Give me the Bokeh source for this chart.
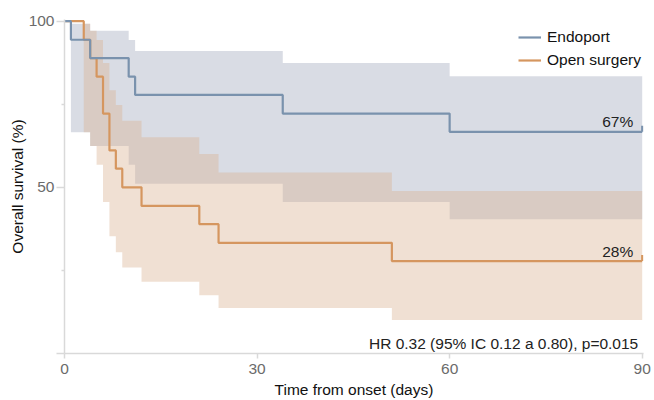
import numpy as np
from bokeh.plotting import figure
from bokeh.models import Range1d, FixedTicker, Legend, LegendItem, Label
from bokeh.embed import file_html
from bokeh.resources import INLINE

# ---- data ----
series_names = ["Endoport", "Open surgery"]

endo_time = [0, 1, 4, 10, 11, 34, 60, 90]
endo_surv = [100, 94.4, 88.9, 83.3, 77.8, 72.2, 66.7, 66.7]
endo_ci_time = [1, 4, 10, 11, 34, 60, 90]
endo_ci_low = [66.6, 62.4, 56.8, 51.1, 45.6, 40.4, 40.4]
endo_ci_high = [99.2, 97.1, 94.3, 91.0, 87.4, 83.4, 83.4]

open_time = [0, 3, 4, 5, 6, 7, 8, 9, 12, 21, 24, 51, 90]
open_surv = [100, 94.4, 88.9, 83.3, 72.2, 61.1, 55.6, 50.0, 44.4, 38.9, 33.3, 27.8, 27.8]
open_ci_time = [3, 4, 5, 6, 7, 8, 9, 12, 21, 24, 51, 90]
open_ci_low = [66.6, 62.4, 56.8, 45.6, 35.3, 30.5, 25.9, 21.6, 17.5, 13.7, 10.1, 10.1]
open_ci_high = [99.2, 97.1, 94.3, 87.4, 79.2, 74.8, 70.0, 65.1, 60.0, 54.5, 48.9, 48.9]

end_labels = ["67%", "28%"]
x_ticks = [0, 30, 60, 90]
y_ticks = [0, 50, 100]
y_minor_ticks = [25, 75]
hr_text = "HR 0.32 (95% IC 0.12 a 0.80), p=0.015"
x_title = "Time from onset (days)"
y_title = "Overall survival (%)"

# ---- style ----
FONT = "Liberation Sans"
FS = "15.5px"
BLUE = "#7a92ad"
ORANGE = "#d5965f"
BLUE_BAND = "#a0a8bc"
ORANGE_BAND = "#dab291"
AXIS = "#d9d9d9"

p = figure(width=654, height=400, output_backend="svg", toolbar_location=None,
           x_range=Range1d(0, 90.2), y_range=Range1d(0, 100.5),
           min_border_left=64, min_border_right=11, min_border_top=19, min_border_bottom=47)
p.grid.visible = False
p.outline_line_color = None
p.background_fill_color = "white"

# confidence bands
p.varea_step(x=endo_ci_time, y1=endo_ci_low, y2=endo_ci_high, step_mode="after",
             fill_color=BLUE_BAND, fill_alpha=0.4)
p.varea_step(x=open_ci_time, y1=open_ci_low, y2=open_ci_high, step_mode="after",
             fill_color=ORANGE_BAND, fill_alpha=0.4)

# survival curves
open_line = p.step(x=open_time, y=open_surv, mode="after", line_color=ORANGE, line_width=2.2)
endo_line = p.step(x=endo_time, y=endo_surv, mode="after", line_color=BLUE, line_width=2.2)

# censor marks at end of follow-up
p.ray(x=[open_time[-1]], y=[open_surv[-1]], length=6, length_units="screen",
      angle=np.pi / 2, line_color=ORANGE, line_width=2.2)
p.ray(x=[endo_time[-1]], y=[endo_surv[-1]], length=6, length_units="screen",
      angle=np.pi / 2, line_color=BLUE, line_width=2.2)

# end-value labels
for t, s, lab in [(endo_time[-1], endo_surv[-1], end_labels[0]),
                  (open_time[-1], open_surv[-1], end_labels[1])]:
    p.add_layout(Label(x=t, y=s, text=lab, x_offset=-9, y_offset=10,
                       text_align="right", text_baseline="middle",
                       text_font=FONT, text_font_size=FS, text_color="#222222"))

p.add_layout(Label(x=x_ticks[-1], y=0, text=hr_text, x_offset=-4, y_offset=10,
                   text_align="right", text_baseline="middle",
                   text_font=FONT, text_font_size=FS, text_color="#222222"))

# axes
for ax in (p.xaxis[0], p.yaxis[0]):
    ax.axis_line_color = AXIS
    ax.axis_line_width = 1.5
    ax.major_tick_line_color = AXIS
    ax.major_tick_line_width = 1.5
    ax.minor_tick_line_color = AXIS
    ax.minor_tick_line_width = 1.5
    ax.major_tick_in = 0
    ax.minor_tick_in = 0
    ax.major_label_text_font = FONT
    ax.major_label_text_font_size = FS
    ax.major_label_text_color = "#6b6b6b"
    ax.axis_label_text_font = FONT
    ax.axis_label_text_font_size = FS
    ax.axis_label_text_font_style = "normal"
    ax.axis_label_text_color = "#111111"

p.xaxis.ticker = FixedTicker(ticks=x_ticks, minor_ticks=[])
p.xaxis.major_tick_out = 5
p.xaxis.major_label_standoff = 5
p.xaxis.axis_label_standoff = 4
p.xaxis.axis_label = x_title

p.yaxis.ticker = FixedTicker(ticks=y_ticks, minor_ticks=y_minor_ticks)
p.yaxis.major_tick_out = 8
p.yaxis.minor_tick_out = 3
p.yaxis.major_label_standoff = 2
p.yaxis.axis_label_standoff = 0
p.yaxis.major_label_overrides = {0: ""}
p.yaxis.axis_label = y_title

legend = Legend(items=[LegendItem(label=series_names[0], renderers=[endo_line]),
                       LegendItem(label=series_names[1], renderers=[open_line])],
                location=(454, 283), padding=0, margin=0, spacing=3,
                glyph_width=23, glyph_height=20, label_height=20, label_standoff=6,
                border_line_color=None, background_fill_alpha=0,
                label_text_font=FONT, label_text_font_size=FS, label_text_color="#111111")
p.add_layout(legend)

open("out.html", "w").write(file_html(p, INLINE))
